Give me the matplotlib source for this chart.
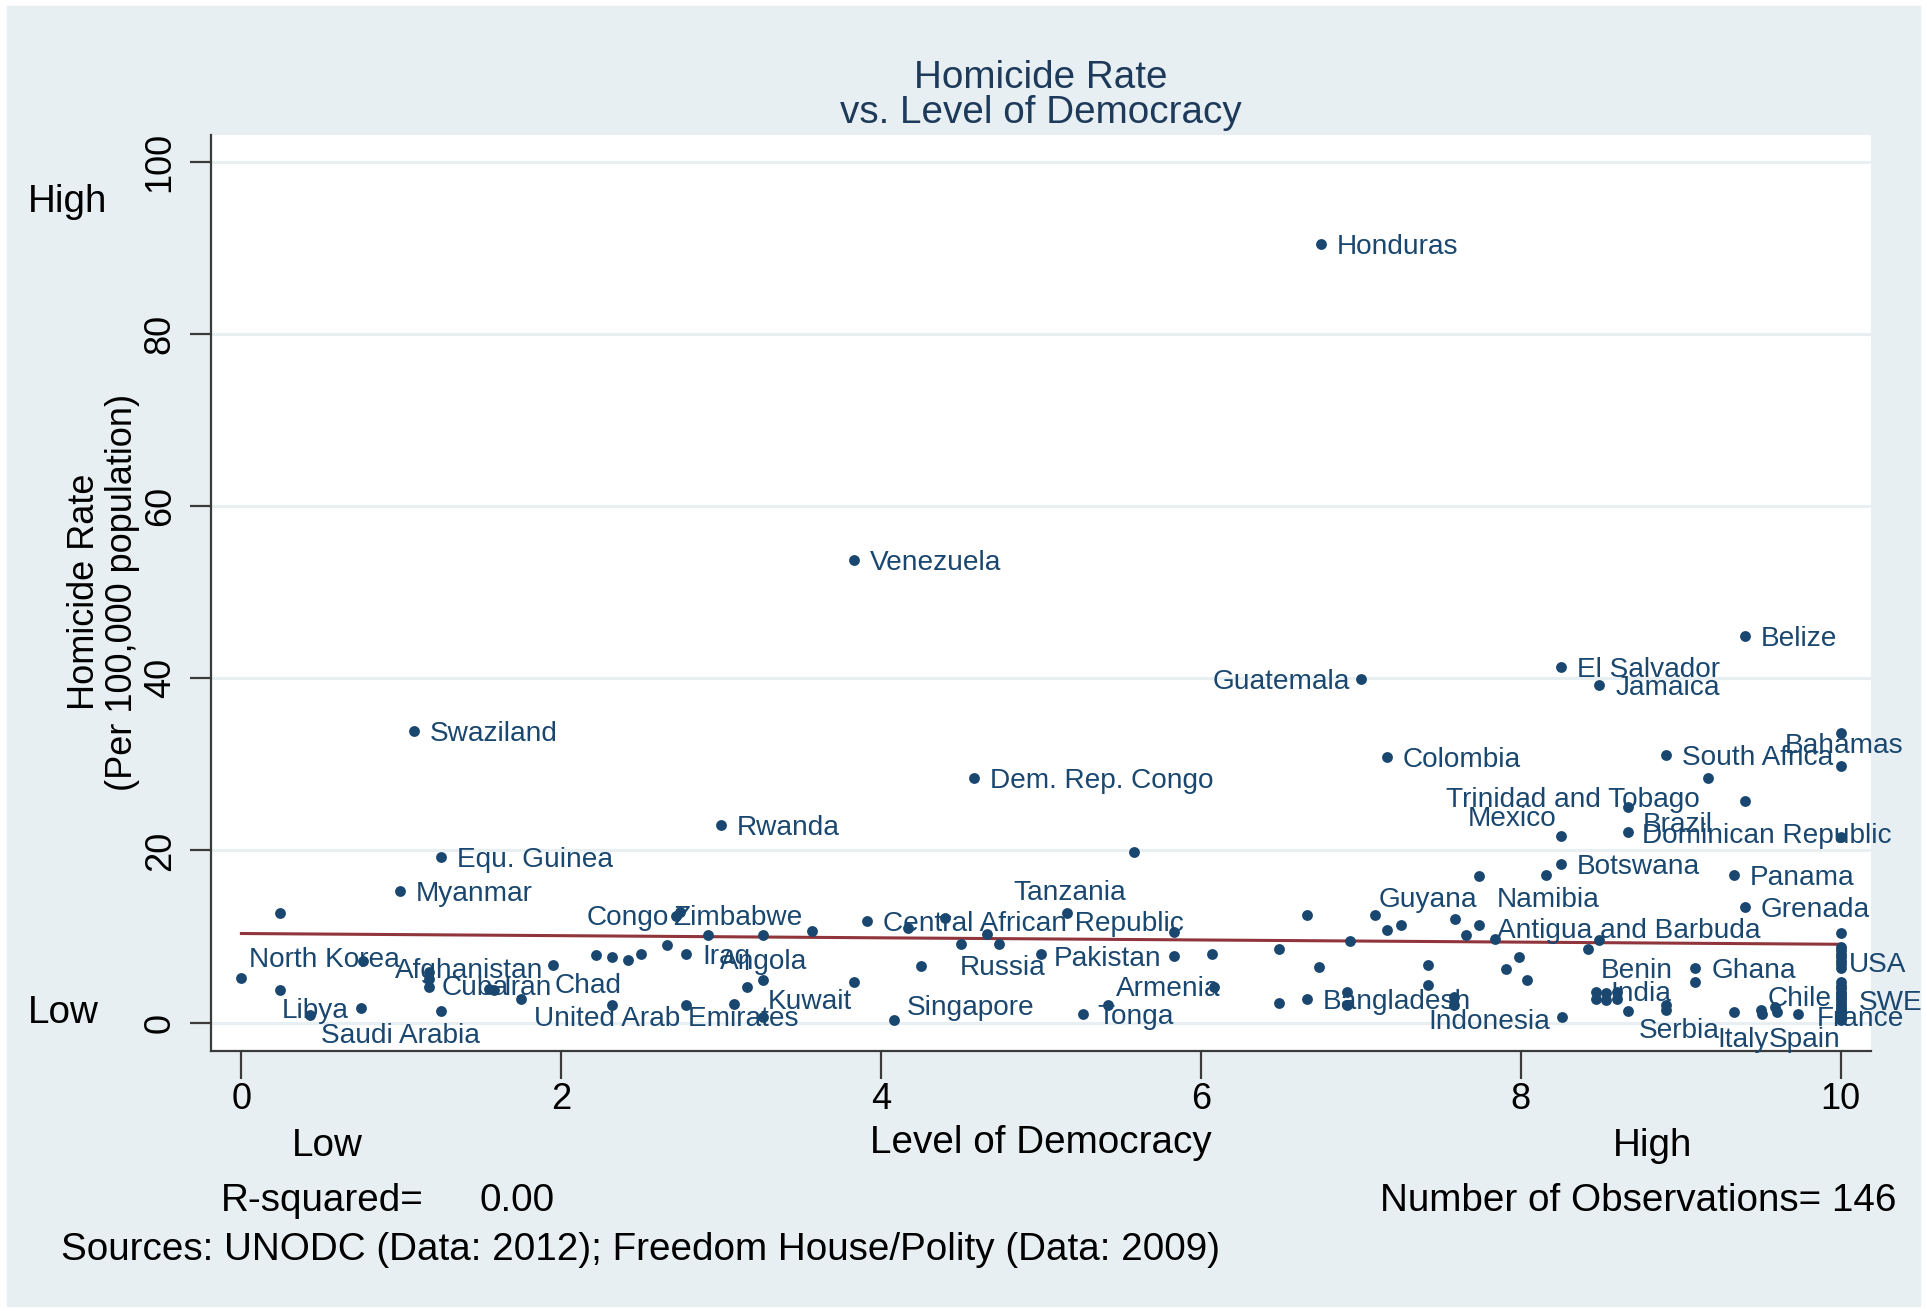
import numpy as np
import matplotlib.pyplot as plt
from matplotlib.patches import Rectangle

plt.rcParams['font.family'] = ['Liberation Sans', 'DejaVu Sans']

# Labelled countries: level of democracy (0-10) and homicide rate (per 100,000)
names = ['Honduras', 'Venezuela', 'Belize', 'El Salvador', 'Jamaica', 'Guatemala',
         'Swaziland', 'Bahamas', 'South Africa', 'Colombia', 'Dem. Rep. Congo',
         'Trinidad and Tobago', 'Mexico', 'Rwanda', 'Brazil', 'Dominican Republic',
         'Equ. Guinea', 'Botswana', 'Panama', 'Myanmar', 'Tanzania', 'Guyana',
         'Namibia', 'Grenada', 'Congo', 'Zimbabwe', 'Central African Republic',
         'Antigua and Barbuda', 'North Korea', 'Afghanistan', 'Iraq', 'Angola',
         'Russia', 'Pakistan', 'USA', 'Benin', 'Ghana', 'Cuba', 'Iran', 'Chad',
         'Armenia', 'Kuwait', 'Bangladesh', 'India', 'Chile', 'SWE', 'Libya',
         'Singapore', 'United Arab Emirates', 'Tonga', 'Indonesia', 'France',
         'Saudi Arabia', 'Serbia', 'Italy', 'Spain']
dem = [6.75, 3.83, 9.40, 8.25, 8.49, 7.00,
       1.08, 10.0, 8.91, 7.16, 4.58,
       9.17, 8.25, 3.00, 8.67, 10.0,
       1.25, 8.25, 9.33, 0.99, 5.16, 7.09,
       7.74, 9.40, 2.74, 2.72, 3.91,
       7.84, 0.00, 1.17, 2.78, 3.26,
       4.50, 5.00, 10.0, 8.49, 9.09, 1.17, 1.58, 1.95,
       6.08, 3.26, 6.66, 8.47, 9.50, 10.0, 0.24,
       4.08, 1.75, 5.42, 7.58, 10.0,
       0.43, 8.26, 9.33, 9.51]
hom = [90.4, 53.7, 44.9, 41.3, 39.2, 39.9,
       33.9, 29.8, 31.1, 30.9, 28.4,
       28.4, 21.7, 23.0, 22.1, 21.6,
       19.2, 18.4, 17.2, 15.3, 12.7, 12.5,
       11.3, 13.4, 12.9, 12.4, 11.8,
       9.7, 5.2, 5.9, 8.0, 4.9,
       9.1, 8.0, 7.2, 9.6, 6.3, 4.1, 3.75, 6.7,
       4.1, 0.7, 2.7, 3.6, 1.5, 2.7, 3.8,
       0.3, 2.7, 2.0, 2.0, 0.3,
       0.85, 0.6, 1.2, 1.0]

# Unlabelled countries
other_dem = [0.24, 0.76, 0.75, 1.25, 1.17, 1.55, 2.32, 2.22, 2.32, 2.42, 2.50,
             2.92, 3.26, 3.57, 4.17, 4.40, 4.66, 4.74, 5.26, 4.25, 3.83, 3.16,
             2.78, 3.08, 2.66,
             5.58, 5.83, 5.83, 6.07, 6.49, 6.49, 6.66, 6.74, 6.93, 6.91, 6.91,
             7.16, 7.25, 7.42, 7.42, 7.58, 7.59, 7.66, 7.74, 7.99, 7.91, 8.04,
             8.16, 8.42, 8.47, 8.53, 8.53, 8.60, 8.60, 8.67, 8.91, 8.91, 9.09,
             9.59, 9.60, 9.73, 10.0, 9.40, 8.67,
             10.0, 10.0, 10.0, 10.0, 10.0, 10.0, 10.0,
             10.0, 10.0, 10.0, 10.0, 10.0, 10.0, 10.0, 10.0, 10.0, 10.0,
             10.0, 10.0, 10.0, 10.0, 10.0, 10.0, 10.0, 10.0, 10.0]
other_hom = [12.7, 7.2, 1.7, 1.35, 5.1, 3.9, 2.1, 7.8, 7.6, 7.3, 8.0,
             10.2, 10.2, 10.7, 11.0, 12.1, 10.3, 9.1, 1.0, 6.6, 4.7, 4.1,
             2.0, 2.2, 9.0,
             19.8, 10.5, 7.7, 8.0, 8.5, 2.3, 12.5, 6.5, 9.5, 3.6, 2.0,
             10.8, 11.3, 6.7, 4.4, 3.0, 12.0, 10.2, 17.0, 7.6, 6.2, 4.9,
             17.2, 8.5, 2.8, 3.4, 2.6, 3.6, 2.8, 1.35, 2.0, 1.5, 4.7,
             1.8, 1.2, 1.0, 33.6, 25.7, 25.1,
             10.4, 8.8, 8.4, 8.0, 7.6, 6.8, 6.4,
             4.7, 4.3, 4.0, 3.6, 3.3, 3.0, 2.4, 2.1, 1.8, 1.6,
             1.4, 1.2, 1.0, 0.9, 0.8, 0.7, 0.6, 0.5, 0.4]

# Linear fit
fit_x = [0, 10]
fit_y = [10.35, 9.1]

xticks = [0, 2, 4, 6, 8, 10]
yticks = [0, 20, 40, 60, 80, 100]

# label placement relative to the dot (data units); default is to the right
label_off = {'Guatemala': (-0.07, -0.3), 'Bahamas': (-0.35, 2.3),
             'Trinidad and Tobago': (-1.64, -2.5), 'Mexico': (-0.58, 1.9),
             'Brazil': (0.09, 0.9), 'Dominican Republic': (-1.24, 0.1),
             'Tanzania': (-0.33, 2.3), 'Guyana': (0.02, 1.8), 'Namibia': (0.11, 3.0),
             'Congo': (-0.58, -0.8), 'Zimbabwe': (-0.02, -0.3),
             'Antigua and Barbuda': (0.01, 1.0), 'North Korea': (0.05, 2.1),
             'Afghanistan': (-0.21, 0.1), 'Angola': (-0.27, 2.1), 'Russia': (-0.01, -2.8),
             'Pakistan': (0.08, -0.6), 'USA': (0.05, -0.5), 'Benin': (0.01, -3.6),
             'Cuba': (0.08, -0.1), 'Iran': (0.06, 0.25), 'Chad': (0.01, -2.4),
             'Armenia': (-0.61, -0.2), 'Kuwait': (0.03, 1.7), 'India': (0.09, -0.3),
             'Chile': (0.04, 1.2), 'SWE': (0.11, -0.4), 'Libya': (0.01, -2.5),
             'Singapore': (0.08, 1.4), 'United Arab Emirates': (0.08, -2.3),
             'Tonga': (-0.07, -1.4), 'Indonesia': (-0.16, -1.9), 'France': (-0.15, 0.1),
             'Saudi Arabia': (0.07, -2.45), 'Serbia': (0.48, -1.6),
             'Italy': (-0.10, -3.2), 'Spain': (0.04, -3.0)}
right_aligned = ['Guatemala']

navy = '#1a476f'
maroon = '#90353b'
bg = '#e8eff2'

fig = plt.figure(figsize=(19.27, 13.11), dpi=100)
fig.patch.set_facecolor('white')
fig.patches.append(Rectangle((7 / 1927, 5 / 1311), 1913 / 1927, 1300 / 1311,
                             transform=fig.transFigure, color=bg, zorder=-5))

ax = fig.add_axes([0.1095, 0.1983, 0.8615, 0.6987])
ax.set_facecolor('white')

ax.plot(other_dem, other_hom, 'o', color=navy, ms=7.8, mew=0, zorder=3)
ax.plot(dem, hom, 'o', color=navy, ms=7.8, mew=0, zorder=3)
ax.plot(fit_x, fit_y, '-', color=maroon, lw=2.2, zorder=2)

for n, x, y in zip(names, dem, hom):
    dx, dy = label_off.get(n, (0.1, -0.35))
    ha = 'right' if n in right_aligned else 'left'
    ax.text(x + dx, y + dy, n, ha=ha, va='center', fontsize=20.2,
            color=navy, zorder=4)

ax.set_xlim(-0.19, 10.19)
ax.set_ylim(-3.3, 103.1)
ax.set_xticks(xticks)
ax.set_xticklabels([str(v) for v in xticks], fontsize=26)
ax.set_yticks(yticks)
ax.set_yticklabels([str(v) for v in yticks], fontsize=26, rotation=90, va='center')
ax.grid(axis='y', color=bg, lw=2.2, zorder=0)
ax.set_axisbelow(True)
for s in ['top', 'right']:
    ax.spines[s].set_visible(False)
for s in ['left', 'bottom']:
    ax.spines[s].set_color('#3a3a3a')
    ax.spines[s].set_linewidth(1.6)
ax.tick_params(axis='x', length=20, width=1.6, color='#3a3a3a', pad=2)
ax.tick_params(axis='y', length=15, width=1.6, color='#3a3a3a', pad=9)

# titles and notes
tcol = '#1e3a5a'
big = 27.8
fig.text(0.5402, 0.9408, 'Homicide Rate', ha='center', va='center', fontsize=big, color=tcol)
fig.text(0.5402, 0.9141, 'vs. Level of Democracy', ha='center', va='center', fontsize=big, color=tcol)
fig.text(0.0436, 0.5484, 'Homicide Rate', rotation=90, ha='center', va='center', fontsize=26)
fig.text(0.0638, 0.5484, '(Per 100,000 population)', rotation=90, ha='center', va='center', fontsize=26)
fig.text(0.0145, 0.846, 'High', ha='left', va='center', fontsize=big)
fig.text(0.0145, 0.227, 'Low', ha='left', va='center', fontsize=big)
fig.text(0.1697, 0.1262, 'Low', ha='center', va='center', fontsize=big)
fig.text(0.5402, 0.1278, 'Level of Democracy', ha='center', va='center', fontsize=big)
fig.text(0.8578, 0.1262, 'High', ha='center', va='center', fontsize=big)
fig.text(0.1147, 0.0838, 'R-squared=', ha='left', va='center', fontsize=big)
fig.text(0.2486, 0.0838, '0.00', ha='left', va='center', fontsize=big)
fig.text(0.7161, 0.0838, 'Number of Observations= 146', ha='left', va='center', fontsize=big)
fig.text(0.0319, 0.0468, 'Sources: UNODC (Data: 2012); Freedom House/Polity (Data: 2009)',
         ha='left', va='center', fontsize=big)

fig.savefig('out.png', dpi=100)
